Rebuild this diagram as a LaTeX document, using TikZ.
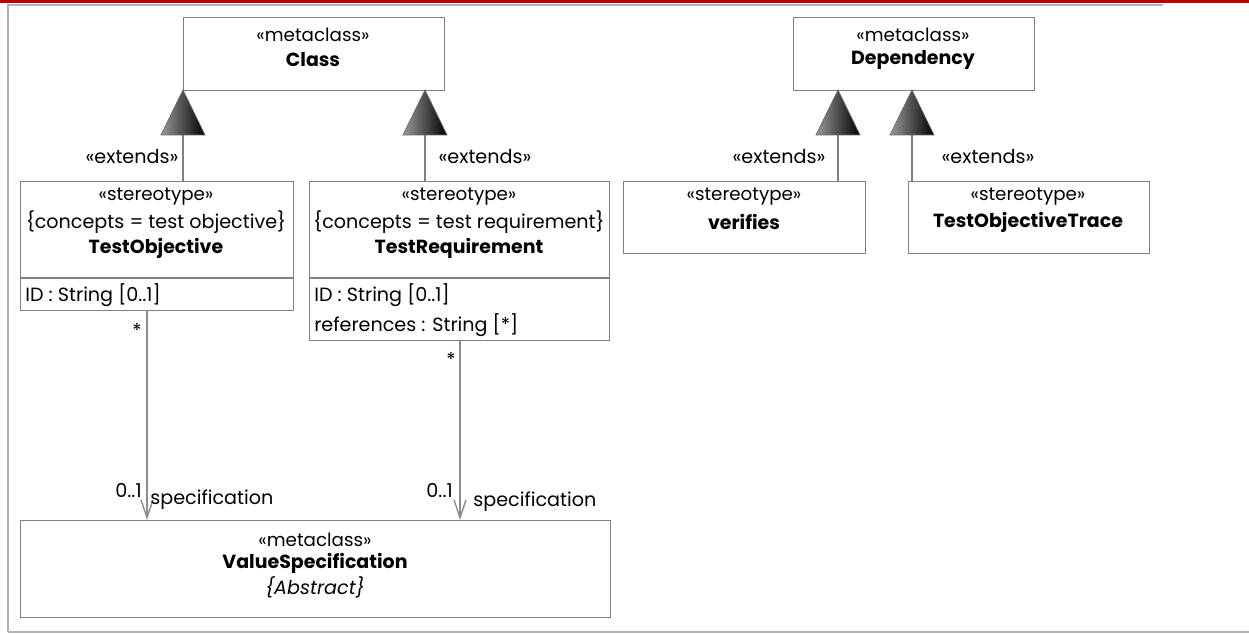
\documentclass[tikz,border=0pt]{standalone}
\usepackage{fontspec}
\setmainfont{Poppins}
\usetikzlibrary{arrows.meta,calc}
\tikzset{
	umlbox/.style={draw=black!50, line width=0.8pt, fill=white, anchor=north west, inner sep=0pt},
	stereo/.style={font=\fontsize{10.4}{12}\selectfont, inner sep=0pt},
	title/.style={font=\fontsize{10.8}{12}\selectfont\bfseries, inner sep=0pt},
	plain/.style={font=\fontsize{10.9}{12}\selectfont, inner sep=0pt},
	assoc/.style={draw=black!45, line width=0.8pt, -{Straight Barb[length=3.6mm, width=2.4mm]}},
	extline/.style={draw=black!50, line width=0.8pt},
	headfill/.style={left color=black!40, right color=black, draw=black!60, line width=0.4pt}
}
\newcommand{\exthead}[1]{\shade[headfill] (#1) -- ++(-22,45) -- ++(44,0) -- cycle;}

\begin{document}
\begin{tikzpicture}[x=0.02cm, y=-0.02cm]
	\useasboundingbox (0,0) rectangle (1249,634);
	% Frame
	\fill[red!75!black] (0,0) rectangle (1249,3);
	\draw[black!30, line width=1.2pt] (8,632) -- (8,5) -- (1163,5);
	\draw[black!30, line width=1.2pt] (8,632) -- (1249,632);
	% Metaclasses
	\node[umlbox, minimum width=5.22cm, minimum height=1.46cm] (class) at (183,17) {};
	\node[stereo] (classStereo) at (313,35) {«metaclass»};
	\node[title] (className) at (313,60) {Class};
	\node[umlbox, minimum width=4.82cm, minimum height=1.46cm] (dependency) at (793,17) {};
	\node[stereo] (depStereo) at (913,35) {«metaclass»};
	\node[title] (depName) at (913,60) {Dependency};
	% Stereotypes
	\node[umlbox, minimum width=5.46cm, minimum height=2.58cm] (objective) at (20,181) {};
	\node[stereo] (objStereo) at (156,197) {«stereotype»};
	\node[plain] (objConcept) at (156,222) {\{concepts = test objective\}};
	\node[title] (objName) at (156,248) {TestObjective};
	\draw[extline] (objective.west |- 0,278) -- (objective.east |- 0,278);
	\node[plain, anchor=west] (objID) at (25,295) {ID : String [0..1]};
	\node[umlbox, minimum width=6cm, minimum height=3.18cm] (requirement) at (309,181) {};
	\node[stereo] (reqStereo) at (459,197) {«stereotype»};
	\node[plain] (reqConcept) at (459,222) {\{concepts = test requirement\}};
	\node[title] (reqName) at (459,248) {TestRequirement};
	\draw[extline] (requirement.west |- 0,278) -- (requirement.east |- 0,278);
	\node[plain, anchor=west] (reqID) at (314,295) {ID : String [0..1]};
	\node[plain, anchor=west] (reqRefs) at (314,325) {references : String [*]};
	\node[umlbox, minimum width=4.84cm, minimum height=1.44cm] (verifies) at (623,181) {};
	\node[stereo] (verStereo) at (744,197) {«stereotype»};
	\node[title] (verName) at (744,222) {verifies};
	\node[umlbox, minimum width=4.82cm, minimum height=1.44cm] (trace) at (908,181) {};
	\node[stereo] (traceStereo) at (1028,197) {«stereotype»};
	\node[title] (traceName) at (1028,222) {TestObjectiveTrace};
	% ValueSpecification
	\node[umlbox, minimum width=11.8cm, minimum height=1.94cm] (valuespec) at (20,520) {};
	\node[stereo] (vsStereo) at (315,540) {«metaclass»};
	\node[title] (vsName) at (315,563) {ValueSpecification};
	\node[plain] (vsAbstract) at (315,587) {\textit{\{Abstract\}}};
	% Extensions
	\coordinate (e1) at (183,90);
	\coordinate (e2) at (425,90);
	\coordinate (e3) at (838,90);
	\coordinate (e4) at (912,90);
	\draw[extline] (objective.north -| e1) -- ($(e1)+(0,45)$);
	\draw[extline] (requirement.north -| e2) -- ($(e2)+(0,45)$);
	\draw[extline] (verifies.north -| e3) -- ($(e3)+(0,45)$);
	\draw[extline] (trace.north -| e4) -- ($(e4)+(0,45)$);
	\exthead{e1}
	\exthead{e2}
	\exthead{e3}
	\exthead{e4}
	\node[plain] (ext1) at (132,157) {«extends»};
	\node[plain] (ext2) at (485,157) {«extends»};
	\node[plain] (ext3) at (779,157) {«extends»};
	\node[plain] (ext4) at (988,157) {«extends»};
	% Associations
	\coordinate (a1) at (147,0);
	\coordinate (a2) at (460,0);
	\draw[assoc] (objective.south -| a1) -- (valuespec.north -| a1);
	\draw[assoc] (requirement.south -| a2) -- (valuespec.north -| a2);
	\node[plain] (m1) at (137,330) {*};
	\node[plain] (m2) at (451,359) {*};
	\node[plain, anchor=east] (r1) at (142,491) {0..1};
	\node[plain, anchor=east] (r2) at (453,491) {0..1};
	\node[plain, anchor=west] (s1) at (150,500) {specification};
	\node[plain, anchor=west] (s2) at (473,502) {specification};
\end{tikzpicture}
\end{document}
